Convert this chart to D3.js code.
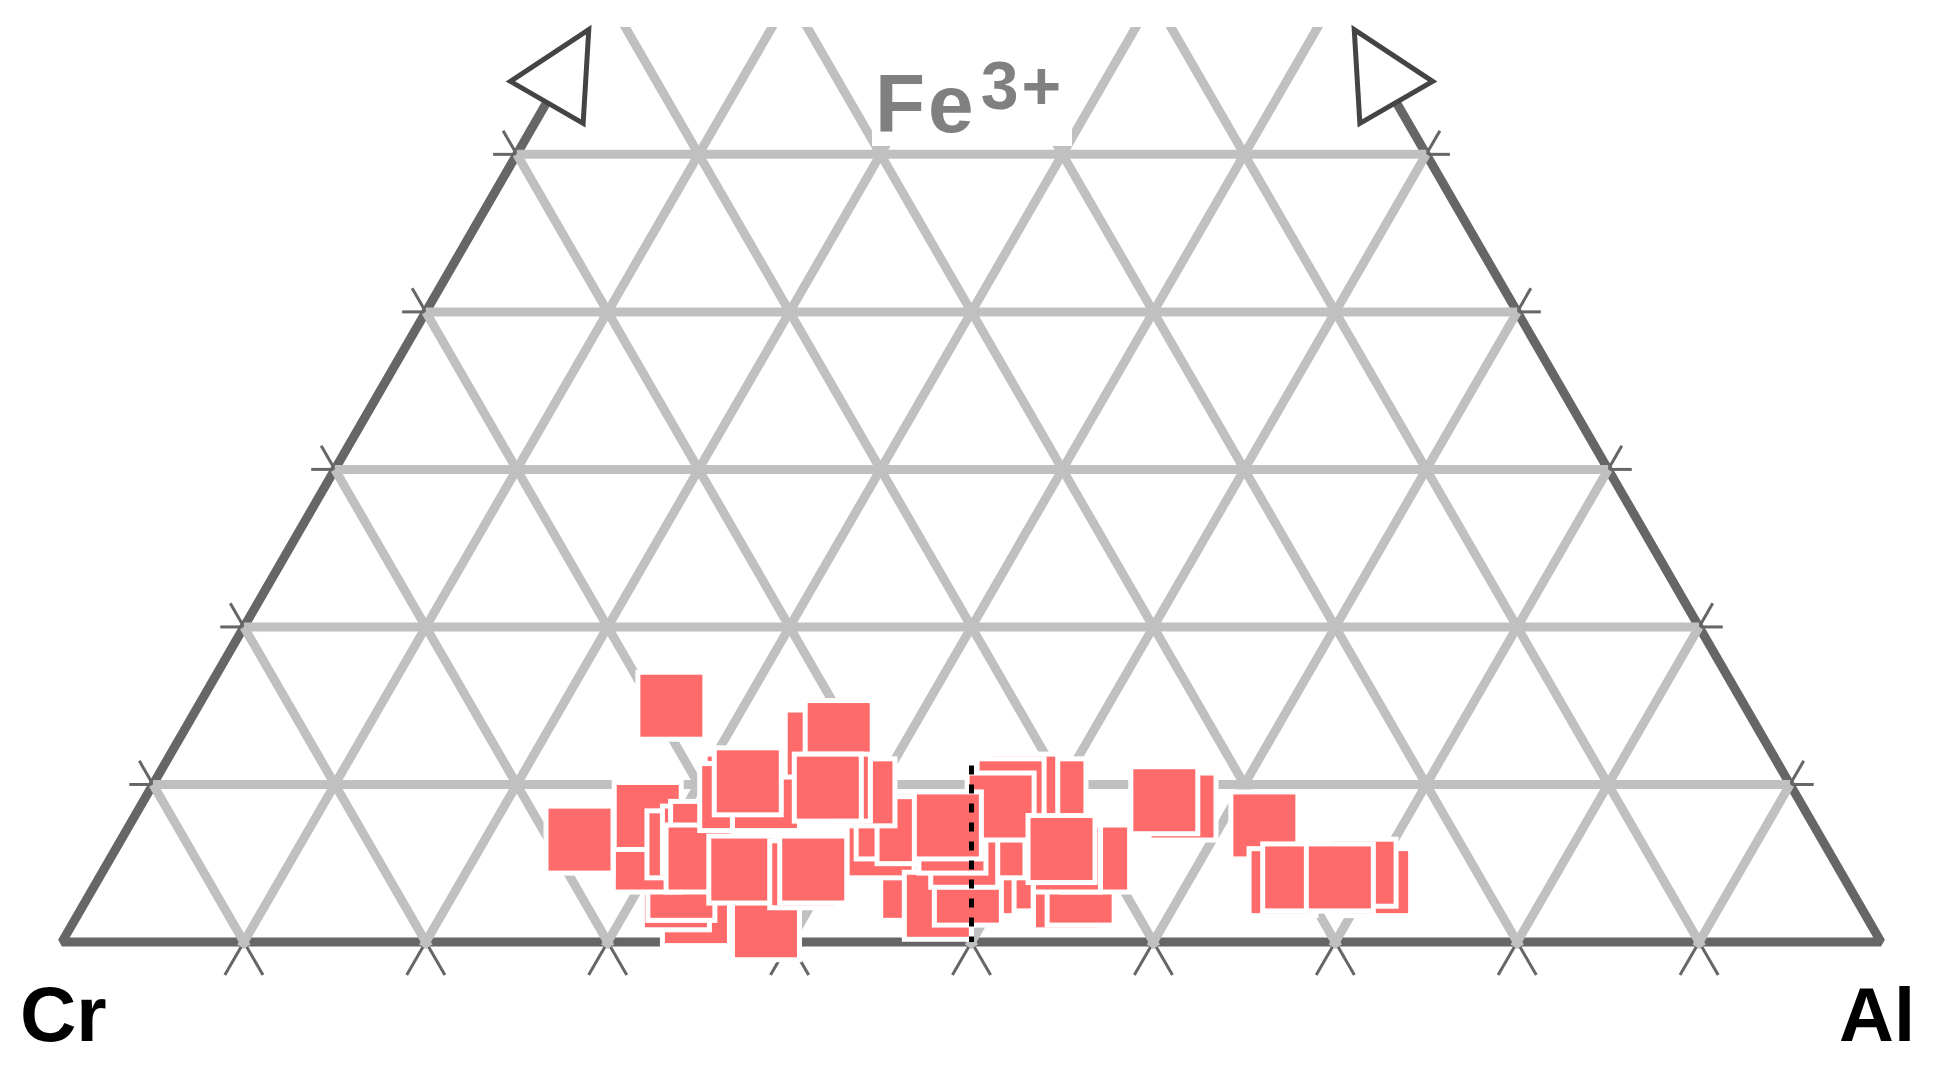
<!DOCTYPE html>
<html>
<head>
<meta charset="utf-8">
<script src="https://cdn.jsdelivr.net/npm/d3@7"></script>
<style>
  html, body { margin: 0; padding: 0; background: #fff; }
  svg { display: block; }
</style>
</head>
<body>
<svg id="chart" width="1936" height="1072"></svg>
<script>
// spinel compositions, percent of Cr, Al, Fe3+ (listed in drawing order)
var crValues = [59.0, 64.2, 64.8, 64.2, 65.2, 63.8, 68.3, 62.9, 61.9, 61.3, 62.3,
                60.8, 57.9, 58.5, 56.7, 57.2, 52.1, 50.7, 51.4, 51.9, 50.8, 49.8,
                51.3, 52.5, 53.0, 60.3, 57.1, 56.4, 46.4, 47.6, 50.7, 48.6, 45.8,
                47.6, 47.8, 40.8, 42.2, 43.1, 44.1, 47.6, 43.3, 42.4, 40.5, 42.1,
                42.1, 34.1, 34.9, 30.2, 31.0, 30.1, 25.8, 26.3, 27.7];
var alValues = [26.0, 33.9, 32.3, 32.3, 29.5, 28.2, 25.2, 30.9, 31.6, 31.9, 32.4,
                38.2, 32.3, 32.3, 34.1, 32.6, 35.3, 36.1, 45.1, 41.9, 41.8, 43.1,
                39.2, 37.7, 37.2, 35.1, 38.6, 39.0, 49.5, 48.6, 47.0, 48.2, 48.0,
                46.8, 45.7, 49.7, 48.0, 47.4, 47.3, 45.0, 53.8, 54.4, 54.2, 52.6,
                52.0, 57.3, 56.1, 62.4, 65.2, 65.8, 70.4, 69.3, 68.2];
var feValues = [15.0, 1.9, 2.9, 3.5, 5.3, 8.0, 6.5, 6.2, 6.5, 6.8, 5.3,
                1.0, 9.8, 9.2, 9.2, 10.2, 12.6, 13.2, 3.5, 6.2, 7.4, 7.1,
                9.5, 9.8, 9.8, 4.6, 4.3, 4.6, 4.1, 3.8, 2.3, 3.2, 6.2,
                5.6, 6.5, 9.5, 9.8, 9.5, 8.6, 7.4, 2.9, 3.2, 5.3, 5.3,
                5.9, 8.6, 9.0, 7.4, 3.8, 4.1, 3.8, 4.4, 4.1];

// grid every 10 %
var gridSteps = [10, 20, 30, 40, 50, 60, 70, 80, 90];
var cornerLabels = ["Cr", "Al"];
var apexLabel = ["Fe", "3+"];
// Cr = Al reference line, Fe3+ range
var refFe = [11.2, 0];

var width = 1936, height = 1072;
var base = {left: 62, right: 1881, y: 942};
var side = base.right - base.left;
var tri = side * Math.sqrt(3) / 2;
var clipTop = 27;
var edgeTop = 53.3;   // sides stop (arrow bases) at this Fe3+ level

var xScale = d3.scaleLinear().domain([0, 100]).range([base.left, base.right]);
var yScale = d3.scaleLinear().domain([0, 100]).range([base.y, base.y - tri]);

function project(cr, al, fe) {
  return [xScale(al + fe / 2), yScale(fe)];
}
var line = d3.line();

var svg = d3.select('#chart');

svg.append('defs').append('clipPath').attr('id', 'plotclip')
  .append('rect').attr('x', 0).attr('y', clipTop).attr('width', width).attr('height', height - clipTop);

// frame (two sides and the base)
svg.append('path')
  .attr('d', line([project(100 - edgeTop, 0, edgeTop), project(100, 0, 0),
                   project(0, 100, 0), project(0, 100 - edgeTop, edgeTop)]))
  .attr('fill', 'none')
  .attr('stroke', '#666')
  .attr('stroke-width', 9)
  .attr('stroke-linejoin', 'bevel');

// ticks outside the frame
var ticks = svg.append('g').attr('stroke', '#666').attr('stroke-width', 3).attr('fill', 'none');
gridSteps.forEach(function(k) {
  // below the base: both grid directions continued
  ticks.append('path').attr('d', line([project(100 - k + 0.3, k, -0.3), project(100 - k + 2.1, k, -2.1)]));
  ticks.append('path').attr('d', line([project(k, 100 - k + 0.3, -0.3), project(k, 100 - k + 2.1, -2.1)]));
  if (yScale(k) > clipTop && k < edgeTop) {
    // left side
    ticks.append('path').attr('d', line([project(100 - k, 0, k), project(100 - k + 1.3, -1.3, k)]));
    ticks.append('path').attr('d', line([project(100 - k, 0, k), project(100 - k, -1.5, k + 1.5)]));
    // right side
    ticks.append('path').attr('d', line([project(0, 100 - k, k), project(-1.3, 100 - k + 1.3, k)]));
    ticks.append('path').attr('d', line([project(0, 100 - k, k), project(-1.5, 100 - k, k + 1.5)]));
  }
});

// grid
var grid = svg.append('g')
  .attr('clip-path', 'url(#plotclip)')
  .attr('stroke', '#c0c0c0')
  .attr('stroke-width', 9)
  .attr('fill', 'none');
gridSteps.forEach(function(k) {
  if (yScale(k) > clipTop) {
    grid.append('path').attr('d', line([project(100 - k, 0, k), project(0, 100 - k, k)]));
  }
  grid.append('path').attr('d', line([project(100 - k + 0.3, k, -0.3), project(0, k, 100 - k)]));
  grid.append('path').attr('d', line([project(k, 100 - k + 0.3, -0.3), project(k, 0, 100 - k)]));
});

// open arrowheads at the top of both sides
function arrowHead(p, d) {
  var n = [-d[1], d[0]];
  var len = 84, half = 42;
  return [[p[0] + n[0] * half, p[1] + n[1] * half],
          [p[0] + d[0] * len, p[1] + d[1] * len],
          [p[0] - n[0] * half, p[1] - n[1] * half]];
}
var s3 = Math.sqrt(3) / 2;
[[project(100 - edgeTop, 0, edgeTop), [0.5, -s3]],
 [project(0, 100 - edgeTop, edgeTop), [-0.5, -s3]]].forEach(function(a) {
  svg.append('path')
    .attr('d', line(arrowHead(a[0], a[1])) + 'Z')
    .attr('fill', '#fff')
    .attr('stroke', '#444')
    .attr('stroke-width', 5)
    .attr('stroke-linejoin', 'miter');
});

// apex label on a white patch
svg.append('rect')
  .attr('x', 872).attr('y', clipTop).attr('width', 200).attr('height', 119)
  .attr('fill', '#fff');
var apex = svg.append('text')
  .attr('x', 875).attr('y', 132)
  .attr('font-family', 'Liberation Sans, Arial, sans-serif')
  .attr('font-weight', 'bold')
  .attr('font-size', 82)
  .attr('letter-spacing', 3)
  .attr('fill', '#808080');
apex.append('tspan').text(apexLabel[0]);
apex.append('tspan').attr('dx', 4).attr('dy', -23).attr('font-size', 68).text(apexLabel[1]);

// data points
var pts = crValues.map(function(c, i) { return project(c, alValues[i], feValues[i]); });
var size = 62;
svg.append('g').selectAll('rect')
  .data(pts)
  .enter().append('rect')
  .attr('x', function(d) { return d[0] - size / 2; })
  .attr('y', function(d) { return d[1] - size / 2; })
  .attr('width', size)
  .attr('height', size)
  .attr('fill', '#ff6b6b')
  .attr('stroke', '#fff')
  .attr('stroke-width', 10)
  .style('paint-order', 'stroke');

// Cr = Al reference line
svg.append('path')
  .attr('d', line(refFe.map(function(f) { return project((100 - f) / 2, (100 - f) / 2, f); })))
  .attr('stroke', '#000')
  .attr('stroke-width', 5)
  .attr('stroke-dasharray', '9,10')
  .attr('fill', 'none');

// corner labels
svg.append('text')
  .attr('x', 20).attr('y', 1041)
  .attr('font-family', 'Liberation Sans, Arial, sans-serif')
  .attr('font-weight', 'bold')
  .attr('font-size', 78)
  .attr('fill', '#000')
  .text(cornerLabels[0]);
svg.append('text')
  .attr('x', 1915).attr('y', 1041)
  .attr('text-anchor', 'end')
  .attr('font-family', 'Liberation Sans, Arial, sans-serif')
  .attr('font-weight', 'bold')
  .attr('font-size', 76)
  .attr('fill', '#000')
  .text(cornerLabels[1]);
</script>
</body>
</html>
